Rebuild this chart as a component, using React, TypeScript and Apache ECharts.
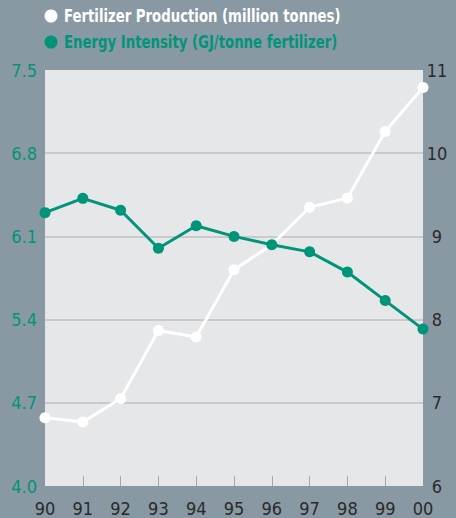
import React, { useEffect, useRef } from "react";
import * as echarts from "echarts";

const years = ["90", "91", "92", "93", "94", "95", "96", "97", "98", "99", "00"];
const production = [6.82, 6.77, 7.05, 7.87, 7.79, 8.6, 8.9, 9.35, 9.46, 10.26, 10.79];
const intensity = [6.3, 6.42, 6.32, 6.0, 6.19, 6.1, 6.03, 5.97, 5.8, 5.56, 5.32];

const productionName = "Fertilizer Production (million tonnes)";
const intensityName = "Energy Intensity (GJ/tonne fertilizer)";

const BG = "#8899a3";
const PLOT = "#e6e7e9";
const TEAL = "#009479";
const DARK = "#2a2a2a";
const FONT = "'DejaVu Sans Condensed', 'Liberation Sans Narrow', 'Liberation Sans', sans-serif";

export default function App() {
  const ref = useRef<HTMLDivElement>(null);
  useEffect(() => {
    if (!ref.current) return;
    const chart = echarts.init(ref.current, null, { renderer: "svg" });
    const last = years.length - 1;
    const legendItems = [
      { name: productionName, color: "#ffffff", y: 16 },
      { name: intensityName, color: TEAL, y: 42 },
    ];
    chart.setOption({
      animation: false,
      backgroundColor: BG,
      textStyle: { fontFamily: FONT },
      graphic: legendItems.flatMap((it) => [
        {
          type: "circle",
          shape: { cx: 51, cy: it.y, r: 6.5 },
          style: { fill: it.color },
          silent: true,
        },
        {
          type: "text",
          x: 64,
          y: it.y,
          scaleX: 0.82,
          style: {
            text: it.name,
            fill: it.color,
            font: `bold 18px ${FONT}`,
            verticalAlign: "middle",
            align: "left",
          },
          silent: true,
        },
      ]),
      grid: {
        left: 45,
        right: 33,
        top: 70,
        bottom: 32,
        show: true,
        backgroundColor: PLOT,
        borderWidth: 0,
        containLabel: false,
      },
      xAxis: {
        type: "category",
        data: years,
        boundaryGap: false,
        axisLine: { show: false },
        axisTick: {
          show: true,
          inside: true,
          length: 10,
          lineStyle: { color: "#a8a8a8", width: 1 },
          interval: (i: number) => i !== 0 && i !== last,
        },
        axisLabel: { color: DARK, fontSize: 18, fontFamily: FONT, margin: 13 },
        splitLine: { show: false },
      },
      yAxis: [
        {
          type: "value",
          min: 4,
          max: 7.5,
          interval: 0.7,
          position: "left",
          axisLine: { show: false },
          axisTick: { show: false },
          axisLabel: {
            color: TEAL,
            fontSize: 18,
            fontFamily: FONT,
            margin: 8,
            formatter: (v: number) => v.toFixed(1),
          },
          splitLine: {
            show: true,
            showMinLine: false,
            showMaxLine: false,
            lineStyle: { color: "#c0c0c2", width: 1.5 },
          },
        },
        {
          type: "value",
          min: 6,
          max: 11,
          interval: 1,
          position: "right",
          axisLine: { show: false },
          axisTick: { show: false },
          axisLabel: { color: DARK, fontSize: 18, fontFamily: FONT, margin: 14, align: "center" },
          splitLine: { show: false },
        },
      ],
      series: [
        {
          name: productionName,
          type: "line",
          yAxisIndex: 1,
          data: production,
          symbol: "circle",
          symbolSize: 11,
          showAllSymbol: true,
          lineStyle: { color: "#ffffff", width: 3 },
          itemStyle: { color: "#ffffff" },
          z: 2,
        },
        {
          name: intensityName,
          type: "line",
          yAxisIndex: 0,
          data: intensity,
          symbol: "circle",
          symbolSize: 11,
          showAllSymbol: true,
          lineStyle: { color: TEAL, width: 3 },
          itemStyle: { color: TEAL },
          z: 3,
        },
      ],
    });
    return () => chart.dispose();
  }, []);
  return (
    <div
      ref={ref}
      style={{ position: "absolute", left: 0, top: 0, width: 456, height: 518 }}
    />
  );
}
